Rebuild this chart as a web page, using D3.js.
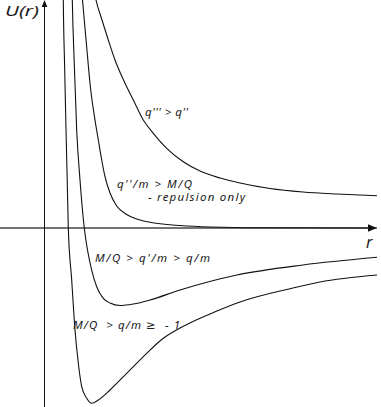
<!DOCTYPE html>
<html>
<head>
<meta charset="utf-8">
<script src="https://cdn.jsdelivr.net/npm/d3@7"></script>
<style>
  html, body { margin: 0; padding: 0; background: #fff; }
  svg { display: block; }
  text { font-family: "Noto Sans", "DejaVu Sans", sans-serif; font-style: italic; fill: #1a1a1a; white-space: pre; }
</style>
</head>
<body>
<script>
// ---- data (r in units, U(r) in units) ----
const rQ3 = [1.498, 1.558, 1.740, 1.930, 2.133, 2.390, 2.687, 2.989, 3.292, 3.697, 4.200, 4.705, 5.310, 5.915, 6.823, 7.821, 8.850, 10.06];
const uQ3 = [7.212, 6.909, 6.303, 5.697, 5.091, 4.485, 3.879, 3.273, 2.870, 2.415, 2.009, 1.727, 1.515, 1.364, 1.197, 1.091, 1.030, 0.979];

const rQ2 = [1.123, 1.150, 1.271, 1.392, 1.528, 1.628, 1.731, 1.831, 1.982, 2.185, 2.487, 2.890, 3.395, 4.100, 5.008, 6.520, 10.06];
const uQ2 = [7.212, 6.909, 5.545, 4.242, 3.273, 2.667, 2.061, 1.555, 1.061, 0.667, 0.409, 0.242, 0.142, 0.076, 0.030, 0.006, 0.000];

const rQ1 = [0.835, 0.841, 0.902, 0.974, 1.074, 1.204, 1.301, 1.428, 1.579, 1.779, 1.982, 2.284, 2.687, 3.192, 4.100, 5.825, 7.821, 10.06];
const uQ1 = [7.212, 6.909, 4.939, 2.970, 1.455, 0.000, -0.667, -1.273, -1.779, -2.130, -2.273, -2.348, -2.303, -2.182, -1.879, -1.424, -1.121, -0.888];

const rQ0 = [0.566, 0.569, 0.608, 0.651, 0.687, 0.720, 0.823, 0.923, 1.023, 1.126, 1.277, 1.428, 1.628, 1.982, 2.487, 3.092, 3.595, 4.100, 5.219, 5.915, 7.519, 8.336, 10.06];
const uQ0 = [7.212, 6.909, 4.939, 2.970, 1.455, 0.000, -1.576, -3.091, -4.100, -4.809, -5.161, -5.312, -5.212, -4.909, -4.403, -3.797, -3.342, -3.030, -2.515, -2.242, -1.818, -1.636, -1.424];

const seriesR = [rQ3, rQ2, rQ1, rQ0];
const seriesU = [uQ3, uQ2, uQ1, uQ0];

const labels = ["q''' > q''", "q''/m > M/Q", "- repulsion only", "M/Q > q'/m > q/m", "M/Q  > q/m \u2265  - 1"];
const axisLabels = ["U(r)", "r"];

// ---- layout ----
const W = 381, H = 407;
const svg = d3.select("body").append("svg").attr("width", W).attr("height", H);

const x = d3.scaleLinear().domain([0, 10]).range([44.5, 375]);
const y = d3.scaleLinear().domain([0, 6]).range([228, 30]);

svg.append("defs").append("clipPath").attr("id", "clip")
  .append("rect").attr("x", 0).attr("y", 0).attr("width", W).attr("height", H);

// axes
const x0 = x(0), y0 = y(0);
svg.append("line").attr("x1", 0).attr("x2", 370).attr("y1", y0).attr("y2", y0)
  .attr("stroke", "#444").attr("stroke-width", 1.6);
svg.append("path").attr("d", `M377,${y0} L368,${y0 - 3.8} L368,${y0 + 3.8} Z`).attr("fill", "#111");

svg.append("line").attr("x1", x0).attr("x2", x0).attr("y1", H).attr("y2", 5)
  .attr("stroke", "#111").attr("stroke-width", 1);
svg.append("path").attr("d", `M${x0},0 L${x0 - 2.8},7 L${x0 + 2.8},7 Z`).attr("fill", "#111");

// curves
const line = d3.line().x(d => x(d[0])).y(d => y(d[1])).curve(d3.curveMonotoneX);
const g = svg.append("g").attr("clip-path", "url(#clip)");
seriesR.forEach((rs, i) => {
  const pts = rs.map((r, j) => [r, seriesU[i][j]]);
  g.append("path").attr("d", line(pts)).attr("fill", "none")
    .attr("stroke", "#111").attr("stroke-width", 1.1);
});

// text
svg.append("text").attr("x", 5).attr("y", 16).attr("font-size", 14.5)
  .attr("textLength", 34).attr("lengthAdjust", "spacingAndGlyphs").text(axisLabels[0]);
svg.append("text").attr("x", 366).attr("y", 248).attr("font-size", 16).text(axisLabels[1]);

const labelPos = [
  { x: 145, y: 116, w: 43 },
  { x: 117, y: 188, w: 75 },
  { x: 148, y: 201, w: 97 },
  { x: 95, y: 262, w: 115 },
  { x: 73, y: 329, w: 107 }
];
labels.forEach((t, i) => {
  const p = labelPos[i];
  svg.append("text").attr("x", p.x).attr("y", p.y).attr("font-size", 11.5)
    .attr("textLength", p.w).attr("lengthAdjust", "spacing")
    .attr("xml:space", "preserve").text(t);
});
</script>
</body>
</html>
